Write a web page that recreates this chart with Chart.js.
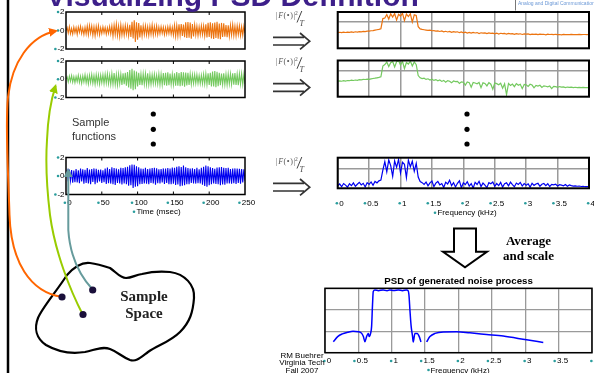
<!DOCTYPE html>
<html><head><meta charset="utf-8">
<script src="https://cdn.jsdelivr.net/npm/chart.js@4.4.1/dist/chart.umd.min.js"></script>
<style>
html,body{margin:0;padding:0;background:#fff;}
#wrap{position:relative;width:594px;height:373px;overflow:hidden;background:#fff;}
#wrap canvas{position:absolute;}
#wrap svg{position:absolute;left:0;top:0;pointer-events:none;}
</style></head><body><div id="wrap"></div>
<script>
// ---------------- data ----------------
const TIME_MAX_MS = 250;
const FREQ_MAX_KHZ = 4;
const timeTickStep = 50;
const freqTickStep = 0.5;

// sample function 1 (orange), amplitude vs time
const orangeTime = [0.0, 0.32, -0.28, 0.41, -0.35, 0.22, -0.4, 0.36, -0.25, 0.3,
 -0.42, 0.38, -0.2, 0.45, -0.33, 0.27, -0.44, 0.35, -0.38, 0.5,
 -0.46, 0.55, -0.3, 0.48, -0.52, 0.4, -0.58, 0.45, -0.36, 0.52,
 -0.47, 0.3, -0.34, 0.38, -0.26, 0.33, -0.4, 0.29, -0.31, 0.42,
 -0.37, 0.5, -0.62, 0.58, -0.45, 0.7, -0.55, 0.48, -0.66, 0.6,
 -0.5, 0.45, -0.52, 0.56, -0.4, 0.5, -0.58, 0.62, -0.7, 0.95,
 -0.85, 1.1, -1.25, 0.9, -1.0, 0.8, -0.75, 0.55, -0.6, 0.5,
 -0.45, 0.52, -0.48, 0.4, -0.55, 0.47, -0.42, 0.6, -0.5, 0.44,
 -0.4, 0.5, -0.46, 0.38, -0.35, 0.42, -0.3, 0.36, -0.44, 0.33,
 -0.38, 0.4, -0.32, 0.45, -0.41, 0.35, -0.5, 0.58, -0.62, 0.55,
 -0.6, 0.66, -0.52, 0.7, -0.58, 0.64, -0.72, 0.88, -0.8, 0.92,
 -0.78, 0.85, -0.9, 0.7, -0.65, 0.6, -0.5, 0.48, -0.55, 0.42,
 -0.46, 0.52, -0.44, 0.5, -0.58, 0.66, -0.75, 0.82, -0.7, 0.9,
 -0.85, 0.78, -0.92, 0.86, -0.8, 0.95, -0.88, 0.75, -0.95, 0.82,
 -0.7, 0.78, -0.66, 0.6, -0.72, 0.55, -0.62, 0.58, -0.5, 0.64,
 -0.56, 0.48, -0.6, 0.52, -0.45, 0.5, -0.55, 0.42, -0.5, 0.46,
 -0.3];

// sample function 2 (green)
const greenTime = [0.0, 0.25, -0.3, 0.35, -0.22, 0.4, -0.33, 0.28, -0.38, 0.3,
 -0.27, 0.42, -0.36, 0.33, -0.45, 0.38, -0.3, 0.48, -0.4, 0.36,
 -0.5, 0.44, -0.38, 0.52, -0.46, 0.4, -0.55, 0.5, -0.42, 0.47,
 -0.52, 0.45, -0.4, 0.5, -0.48, 0.55, -0.44, 0.6, -0.5, 0.46,
 -0.58, 0.62, -0.55, 0.68, -0.6, 0.52, -0.65, 0.58, -0.5, 0.56,
 -0.62, 0.66, -0.55, 0.7, -0.72, 0.8, -0.9, 1.0, -1.05, 1.15,
 -1.2, 0.95, -1.1, 0.85, -0.8, 0.7, -0.62, 0.58, -0.66, 0.6,
 -0.55, 0.62, -0.58, 0.66, -0.6, 0.52, -0.56, 0.5, -0.48, 0.55,
 -0.5, 0.46, -0.52, 0.58, -0.62, 0.55, -0.6, 0.68, -0.64, 0.72,
 -0.7, 0.75, -0.66, 0.62, -0.58, 0.55, -0.6, 0.64, -0.7, 0.78,
 -0.72, 0.68, -0.75, 0.8, -0.7, 0.76, -0.82, 0.74, -0.68, 0.72,
 -0.62, 0.58, -0.55, 0.5, -0.48, 0.52, -0.45, 0.5, -0.46, 0.42,
 -0.48, 0.45, -0.5, 0.55, -0.52, 0.6, -0.58, 0.66, -0.62, 0.72,
 -0.78, 0.85, -0.8, 0.9, -0.86, 0.82, -0.75, 0.7, -0.66, 0.62,
 -0.58, 0.64, -0.6, 0.55, -0.62, 0.58, -0.52, 0.6, -0.56, 0.65,
 -0.6, 0.68, -0.62, 0.58, -0.66, 0.6, -0.55, 0.62, -0.58, 0.56,
 -0.5];

// sample function 3 (blue)
const blueTime = [0.1, 0.55, -0.6, 0.7, -0.5, 0.65, -0.72, 0.58, -0.66, 0.75,
 -0.7, 0.62, -0.78, 0.8, -0.6, 0.72, -0.82, 0.68, -0.75, 0.85,
 -0.8, 0.7, -0.88, 0.76, -0.65, 0.82, -0.9, 0.78, -0.72, 0.66,
 -0.6, 0.7, -0.75, 0.62, -0.68, 0.8, -0.85, 0.92, -0.78, 0.74,
 -0.82, 0.95, -0.9, 0.85, -0.98, 0.8, -0.76, 0.72, -0.8, 0.88,
 -0.92, 0.86, -0.8, 0.94, -0.88, 1.0, -1.05, 1.15, -1.0, 1.25,
 -1.3, 1.2, -1.15, 1.05, -1.1, 0.95, -0.9, 0.82, -0.86, 0.78,
 -0.8, 0.88, -0.84, 0.76, -0.9, 0.8, -0.74, 0.86, -0.82, 0.9,
 -0.95, 0.84, -0.78, 0.72, -0.8, 0.76, -0.7, 0.82, -0.85, 0.8,
 -0.76, 0.86, -0.9, 0.82, -0.88, 0.92, -0.84, 0.9, -0.96, 1.0,
 -0.92, 1.05, -1.1, 0.98, -1.05, 1.12, -1.0, 0.94, -0.9, 0.85,
 -0.88, 0.8, -0.76, 0.84, -0.8, 0.74, -0.82, 0.88, -0.78, 0.72,
 -0.8, 0.9, -0.95, 1.0, -1.08, 1.12, -1.15, 1.05, -1.0, 0.95,
 -0.9, 0.85, -0.8, 0.78, -0.86, 0.92, -0.88, 0.95, -1.0, 0.98,
 -0.92, 0.9, -0.95, 0.86, -0.82, 0.88, -0.8, 0.76, -0.84, 0.8,
 -0.78, 0.82, -0.86, 0.8, -0.74, 0.78, -0.82, 0.76, -0.7, 0.72,
 -0.5];

// |F|^2/T of each sample function (log units), 0..4 kHz
const orangeSpec = [-10.4, -10.1, -10.5, -10.0, -10.3, -9.9, -10.2, -9.8, -10.1, -9.6,
 -9.9, -9.5, -9.7, -9.2, -9.4, -8.9, -9.0, -8.6, -8.4, -8.0,
 -7.6, -7.2, -6.6, 3.5,
 4.0, 7.5, 3.0, 8.2, 5.0, 8.5, 2.0, 7.8, 6.0, 8.6, 1.5, 7.9, 5.5, 8.3, 0.0, 7.2, 6.5,
 -4.5,
 -6.8, -7.3, -7.6, -7.9, -8.2, -8.0, -8.6, -8.4, -8.9,
 -8.7, -9.3, -8.8, -9.6, -9.1, -9.8, -9.3, -10.2, -9.5, -10.0,
 -9.6, -10.5, -9.8, -10.7, -10.0, -10.9, -10.2, -11.0, -10.3, -10.8,
 -10.4, -11.3, -10.6, -11.0, -10.7, -11.5, -10.8, -11.2, -11.0, -11.6,
 -10.9, -11.8, -11.1, -11.4, -11.2, -12.0, -11.3, -11.7, -11.5, -12.2,
 -11.4, -11.9, -11.6, -12.3, -11.7, -12.0, -11.8, -12.4, -11.9, -12.1,
 -12.0, -12.5, -11.9, -12.2, -12.1, -12.6, -12.0, -12.3, -12.2, -12.5,
 -12.1, -12.4, -12.3, -12.6, -12.2, -12.4, -12.3, -12.5, -12.2, -12.4,
 -12.3, -12.4, -12.2, -12.4, -12.3, -12.3, -12.4, -12.3];

const greenSpec = [-10.5, -10.2, -10.6, -10.0, -10.4, -9.9, -10.1, -9.6, -9.9, -9.4,
 -9.7, -9.1, -9.3, -8.8, -8.9, -8.5, -8.7, -8.2, -7.9, -7.6,
 -7.2, -6.8, -6.2, 4.5,
 6.0, 8.5, 4.0, 7.8, 9.0, 3.5, 8.8, 10.0, 5.5, 9.2, 2.0, 8.0, 6.5, 9.4, 4.5, 8.6, 5.8,
 -5.0,
 -7.2, -8.0, -7.6, -8.8, -8.2, -9.4, -8.6, -9.8, -9.0,
 -10.2, -9.4, -10.8, -9.8, -11.5, -10.0, -10.6, -12.2, -10.4, -11.0,
 -10.8, -12.8, -11.2, -11.6, -14.5, -11.4, -12.0, -16.5, -11.8, -12.4,
 -13.2, -11.9, -17.0, -12.2, -12.8, -15.2, -12.0, -13.6, -18.5, -12.4,
 -13.0, -14.2, -12.6, -17.5, -13.2, -24.0, -12.8, -14.8, -13.4, -16.0,
 -13.0, -14.6, -13.6, -18.0, -13.8, -14.2, -15.8, -13.6, -14.4, -17.2,
 -14.8, -15.4, -14.6, -16.8, -15.2, -15.6, -16.2, -15.4, -18.0, -15.8,
 -16.0, -16.6, -15.9, -16.4, -16.2, -17.0, -16.4, -16.8, -16.5, -16.9,
 -16.6, -16.9, -16.7, -17.0, -16.8, -17.0, -16.9, -17.0];

const blueSpec = [-14.8, -13.2, -15.6, -12.8, -14.2, -16.0, -13.0, -14.6, -12.2, -15.2,
 -13.4, -11.8, -14.0, -12.6, -15.8, -12.0, -13.6, -11.4, -14.4, -11.0,
 -12.2, -10.4, -9.8, -1.0,
 6.5, -2.5, 8.0, 3.0, -6.5, 7.2, 1.5, 8.5, -3.5, 6.0, 4.2, -7.5, 7.8, 2.0, 6.8, -2.0, 5.0,
 -7.0, -11.0,
 -12.0, -13.5, -11.5, -14.8, -12.2, -10.6, -15.5, -12.4,
 -11.0, -14.0, -12.8, -16.2, -11.6, -13.2, -9.8, -14.6, -12.0, -15.8,
 -12.6, -10.4, -16.5, -12.2, -13.8, -11.2, -15.0, -12.8, -16.8, -11.8,
 -13.6, -10.8, -15.4, -12.4, -14.2, -16.4, -12.0, -13.0, -11.4, -15.2,
 -12.8, -14.6, -11.8, -16.0, -13.0, -12.2, -14.8, -11.6, -13.8, -15.6,
 -12.4, -13.6, -11.8, -15.0, -12.8, -14.2, -13.0, -16.0, -12.6, -14.4,
 -13.2, -12.6, -15.2, -13.4, -12.8, -14.6, -13.0, -15.4, -13.6, -14.0,
 -13.4, -15.0, -13.8, -14.2, -14.8, -13.6, -15.2, -14.0, -14.6, -15.0,
 -14.8, -15.2, -15.0, -15.4, -15.2, -15.6, -15.4, -15.6];

// averaged PSD of the generated noise process (dB)
const psdFreq = [0.125,0.19,0.26,0.34,0.42,0.5,0.55,0.575,0.598,0.623,0.648,0.663,0.683,0.698,0.712,0.723,0.748,0.80,0.87,0.93,0.97,1.03,1.1,1.16,1.22,1.247,1.26,1.272,1.29,1.312,1.322,1.347,1.382,1.412,1.437,1.48,1.522,1.572,1.647,1.772,1.97,2.17,2.42,2.67,3.02,3.27];
const psdDb = [-49.8,-45,-42.5,-41,-40,-40.4,-42,-45,-49.8,-45,-42,-45,-42,-35.7,-15,-3,-1.6,-2.2,-1.5,-2.3,-1.6,-2.1,-1.5,-2.2,-1.6,-2.4,-8,-20,-35,-45,-50,-42,-42,-45,-50,null,-50,-45,-42,-40.6,-40.5,-41.5,-43,-44.5,-48,-50.4];

// ---------------- drawing ----------------
const FONT = 'Arial, "Liberation Sans", sans-serif';
const SERIF = '"Times New Roman", "Liberation Serif", serif';
const BULLET = '#2a9d9d';
Chart.defaults.font.family = FONT;

const framePlugin = {
  id: 'frame',
  afterDraw(chart, args, o) {
    if (!o || !o.width) return;
    const ctx = chart.ctx, a = chart.chartArea;
    ctx.save();
    ctx.strokeStyle = o.color || '#000';
    ctx.lineWidth = o.width;
    ctx.strokeRect(a.left, a.top, a.right - a.left, a.bottom - a.top);
    if (o.inTicks) {
      const sx = chart.scales.x;
      ctx.lineWidth = 1;
      sx.ticks.forEach(t => {
        if (t.value <= sx.min || t.value >= sx.max) return;
        const px = sx.getPixelForValue(t.value);
        ctx.beginPath();
        ctx.moveTo(px, a.top); ctx.lineTo(px, a.top + 3);
        ctx.moveTo(px, a.bottom); ctx.lineTo(px, a.bottom - 3);
        ctx.stroke();
      });
    }
    ctx.restore();
  }
};
const bulletPlugin = {
  id: 'bullets',
  afterDraw(chart) {
    const ctx = chart.ctx;
    ctx.save();
    ctx.fillStyle = BULLET;
    Object.values(chart.scales).forEach(sc => {
      const o = sc.options;
      if (!o.display || !o.ticks.display) return;
      const f = Chart.helpers.toFont(o.ticks.font);
      ctx.font = f.string;
      sc.ticks.forEach((t, i) => {
        const lbl = String(t.label == null ? '' : t.label);
        if (!lbl) return;
        const w = ctx.measureText(lbl).width;
        let x, y;
        if (sc.isHorizontal()) {
          x = sc.getPixelForTick(i) + (o.ticks.labelOffset || 0) - w / 2 - 2.4;
          y = sc.top + o.ticks.padding + f.lineHeight / 2;
        } else {
          x = sc.right - o.ticks.padding - w - 2.0;
          y = sc.getPixelForTick(i);
        }
        ctx.beginPath(); ctx.arc(x, y, 1.3, 0, Math.PI * 2); ctx.fill();
      });
    });
    ctx.restore();
  }
};
Chart.register(framePlugin, bulletPlugin);

const wrap = document.getElementById('wrap');
// place a chart so that its plotting area lands on the given slide rectangle
function place(box, area, config) {
  const c = document.createElement('canvas');
  c.width = box.w; c.height = box.h;
  c.style.left = box.l + 'px'; c.style.top = box.t + 'px';
  c.style.width = box.w + 'px'; c.style.height = box.h + 'px';
  wrap.appendChild(c);
  const yW = area.l - box.l;
  const xH = box.t + box.h - area.b;
  const sc = config.options.scales;
  sc.x.afterFit = s => { s.height = xH; s.paddingLeft = s.paddingRight = s.paddingTop = s.paddingBottom = 0; };
  sc.y.afterFit = s => { s.width = yW; s.paddingLeft = s.paddingRight = s.paddingTop = s.paddingBottom = 0; };
  config.options.layout = { padding: {
    left: 0, top: area.t - box.t, right: box.l + box.w - area.r, bottom: 0 } };
  config.options.responsive = false;
  config.options.animation = false;
  config.options.devicePixelRatio = 1;
  return new Chart(c, config);
}
const tickFont = { family: FONT, size: 8 };
const plainNum = v => String(v);

function timeChart(box, area, values, color, showX) {
  const step = TIME_MAX_MS / (values.length - 1);
  return place(box, area, {
    type: 'line',
    data: { datasets: [{ data: values.map((v, i) => ({ x: i * step, y: v })),
      borderColor: color, borderWidth: 1.1, pointRadius: 0, tension: 0 }] },
    options: {
      plugins: { legend: { display: false }, tooltip: { enabled: false },
        frame: { width: 1.5, color: '#000', inTicks: true } },
      scales: {
        x: { type: 'linear', min: 0, max: TIME_MAX_MS,
          grid: { display: false, drawTicks: false, tickLength: 0 }, border: { display: false },
          ticks: { display: showX, stepSize: timeTickStep, font: tickFont, color: '#000', callback: plainNum,
            padding: 3.4, labelOffset: 3.5, maxRotation: 0, autoSkip: false } },
        y: { type: 'linear', min: -2, max: 2,
          grid: { display: false, drawTicks: false, tickLength: 0 }, border: { display: false },
          ticks: { stepSize: 2, font: tickFont, color: '#000', padding: 1.5, callback: plainNum } }
      }
    }
  });
}

function freqChart(box, area, values, color, yMin, showX) {
  const step = FREQ_MAX_KHZ / (values.length - 1);
  return place(box, area, {
    type: 'line',
    data: { datasets: [{ data: values.map((v, i) => ({ x: i * step, y: v })),
      borderColor: color, borderWidth: 1.2, pointRadius: 0, tension: 0 }] },
    options: {
      plugins: { legend: { display: false }, tooltip: { enabled: false },
        frame: { width: 2, color: '#000' } },
      scales: {
        x: { type: 'linear', min: 0, max: FREQ_MAX_KHZ,
          grid: { color: '#9a9a9a', lineWidth: 1.5, drawTicks: false, tickLength: 0 }, border: { display: false },
          ticks: { display: showX, stepSize: freqTickStep, font: tickFont, color: '#000', callback: plainNum,
            padding: 10.2, labelOffset: 3.8, maxRotation: 0, autoSkip: false } },
        y: { type: 'linear', min: yMin, max: 10,
          afterBuildTicks: s => { s.ticks = [{ value: 0 }]; },
          grid: { color: '#9a9a9a', lineWidth: 1.5, drawTicks: false, tickLength: 0 }, border: { display: false },
          ticks: { display: false } }
      }
    }
  });
}

timeChart({ l: 40, t: 2, w: 212, h: 52 }, { l: 66, t: 12, r: 245, b: 49 }, orangeTime, '#ec7410', false);
timeChart({ l: 40, t: 54, w: 212, h: 50 }, { l: 66, t: 61, r: 245, b: 97.5 }, greenTime, '#74c95f', false);
timeChart({ l: 40, t: 150, w: 222, h: 60 }, { l: 66, t: 157.5, r: 245, b: 194.5 }, blueTime, '#0000f0', true);

freqChart({ l: 330, t: 5, w: 264, h: 48 }, { l: 337.7, t: 12, r: 589, b: 48.3 }, orangeSpec, '#ec7410', -26, false);
freqChart({ l: 330, t: 55, w: 264, h: 46 }, { l: 337.7, t: 60.5, r: 589, b: 96.7 }, greenSpec, '#74c95f', -26, false);
freqChart({ l: 320, t: 150, w: 274, h: 62 }, { l: 337.7, t: 157.7, r: 589, b: 188.3 }, blueSpec, '#0000f0', -17, true);

place({ l: 315, t: 284, w: 279, h: 89 }, { l: 325, t: 288.3, r: 592, b: 352.7 }, {
  type: 'line',
  data: { datasets: [{ data: psdFreq.map((f, i) => ({ x: f, y: psdDb[i] })),
    borderColor: '#0000ff', borderWidth: 1.5, pointRadius: 0, cubicInterpolationMode: 'monotone', spanGaps: false }] },
  options: {
    plugins: { legend: { display: false }, tooltip: { enabled: false },
      frame: { width: 1.5, color: '#000' } },
    scales: {
      x: { type: 'linear', min: 0, max: FREQ_MAX_KHZ,
        grid: { color: '#9a9a9a', lineWidth: 1.3, drawTicks: false, tickLength: 0 }, border: { display: false },
        ticks: { stepSize: freqTickStep, font: tickFont, color: '#000', callback: plainNum,
          padding: 3.5, labelOffset: 4, maxRotation: 0, autoSkip: false } },
      y: { type: 'linear', min: -60, max: 0,
        grid: { color: '#9a9a9a', lineWidth: 1.3, drawTicks: false, tickLength: 0 }, border: { display: false },
        ticks: { display: false, stepSize: 20 } }
    }
  }
});

// ---------------- slide decorations (svg) ----------------
function formula(d) {
  return `<text x="276" y="${18 + d}" font-family='${SERIF}' font-size="8" fill="#555" textLength="19" lengthAdjust="spacing">|<tspan font-style="italic">F</tspan>(•)|</text>
  <text x="295" y="${14.5 + d}" font-family='${SERIF}' font-size="5.5" fill="#555">2</text>
  <line x1="301.8" y1="${11 + d}" x2="297" y2="${22.5 + d}" stroke="#444" stroke-width="1"/>
  <text x="299.5" y="${25.5 + d}" font-family='${SERIF}' font-size="8" font-style="italic" fill="#444">T</text>
  <path d="M273,${37.3 + d} H304 M273,${45 + d} H304 M300,${33 + d} L309.7,${41.2 + d} L300,${49.4 + d}" stroke="#333" stroke-width="1.7" fill="none"/>`;
}
const svg = `<svg width="594" height="373" viewBox="0 0 594 373" xmlns="http://www.w3.org/2000/svg">
<defs>
 <marker id="mO" markerWidth="9" markerHeight="9" refX="7" refY="4.5" orient="auto" markerUnits="userSpaceOnUse"><path d="M0,0 L9,4.5 L0,9 Z" fill="#ff6600"/></marker>
 <marker id="mG" markerWidth="9" markerHeight="9" refX="7" refY="4.5" orient="auto" markerUnits="userSpaceOnUse"><path d="M0,0 L9,4.5 L0,9 Z" fill="#99cc00"/></marker>
 <marker id="mT" markerWidth="9" markerHeight="9" refX="7" refY="4.5" orient="auto" markerUnits="userSpaceOnUse"><path d="M0,0 L9,4.5 L0,9 Z" fill="#669b9c"/></marker>
</defs>
<line x1="8" y1="0" x2="8" y2="373" stroke="#000" stroke-width="2.5"/>
<text x="46" y="5.5" font-family='${FONT}' font-weight="bold" font-size="30" fill="#3d1f8a">Visualizing PSD Definition</text>
<line x1="515.5" y1="0" x2="515.5" y2="10.5" stroke="#777" stroke-width="1"/>
<text x="518" y="5" font-family='${FONT}' font-size="5" fill="#6b98d6">Analog and Digital Communication</text>
${formula(0)}
${formula(46.3)}
${formula(146)}
<text x="72" y="122" dominant-baseline="central" font-family='${FONT}' font-size="11" fill="#333">Sample</text>
<text x="72" y="135.7" dominant-baseline="central" font-family='${FONT}' font-size="11" fill="#333">functions</text>
<circle cx="153.3" cy="114" r="2.6" fill="#000"/><circle cx="153.3" cy="129.3" r="2.6" fill="#000"/><circle cx="153.3" cy="144" r="2.6" fill="#000"/>
<circle cx="467" cy="114" r="2.6" fill="#000"/><circle cx="467" cy="129.3" r="2.6" fill="#000"/><circle cx="467" cy="144" r="2.6" fill="#000"/>
<circle cx="134" cy="211.7" r="1.3" fill="${BULLET}"/>
<text x="158.5" y="211.7" text-anchor="middle" dominant-baseline="central" font-family='${FONT}' font-size="8" fill="#000">Time (msec)</text>
<circle cx="435" cy="212.7" r="1.3" fill="${BULLET}"/>
<text x="467" y="212.7" text-anchor="middle" dominant-baseline="central" font-family='${FONT}' font-size="8" fill="#000">Frequency (kHz)</text>
<path d="M454,228.5 H476 V251.7 H487 L465,267.3 L443,251.7 H454 Z" fill="#fff" stroke="#000" stroke-width="2"/>
<text x="528.5" y="240.7" text-anchor="middle" dominant-baseline="central" font-family='${SERIF}' font-weight="bold" font-size="13" fill="#000">Average</text>
<text x="528.5" y="255" text-anchor="middle" dominant-baseline="central" font-family='${SERIF}' font-weight="bold" font-size="13" fill="#000">and scale</text>
<text x="458.5" y="280.7" text-anchor="middle" dominant-baseline="central" font-family='${FONT}' font-weight="bold" font-size="9.7" fill="#000">PSD of generated noise process</text>
<text x="302" y="355" text-anchor="middle" dominant-baseline="central" font-family='${FONT}' font-size="8" fill="#000">RM Buehrer</text>
<text x="302" y="362.5" text-anchor="middle" dominant-baseline="central" font-family='${FONT}' font-size="8" fill="#000">Virginia Tech</text>
<text x="302" y="370.5" text-anchor="middle" dominant-baseline="central" font-family='${FONT}' font-size="8" fill="#000">Fall 2007</text>
<circle cx="428.5" cy="370" r="1.3" fill="${BULLET}"/>
<text x="460" y="370" text-anchor="middle" dominant-baseline="central" font-family='${FONT}' font-size="8" fill="#000">Frequency (kHz)</text>
<path d="M67,275 C75,266 82,262 90,263 C98,264 104,266 110,268 C116,272 120,278 126,278 C132,278 135,275 142,274 C150,272 160,271 170,272 C185,274 195,285 194,298 C193,312 190,322 180,332 C170,342 158,345 148,352 C140,358 136,362 130,360 C122,357 118,352 110,349 C102,346 95,350 85,352 C72,354 58,352 46,345 C36,338 34,328 38,318 C42,308 56,292 67,275 Z" fill="none" stroke="#000" stroke-width="2.2"/>
<text x="144" y="296" text-anchor="middle" dominant-baseline="central" font-family='${SERIF}' font-weight="bold" font-size="15" fill="#222">Sample</text>
<text x="144" y="313.3" text-anchor="middle" dominant-baseline="central" font-family='${SERIF}' font-weight="bold" font-size="15" fill="#222">Space</text>
<path d="M62,297 C30,292 11,262 9.5,215 C8,165 5,125 8,97 C12,62 30,36 56,31" fill="none" stroke="#ff6600" stroke-width="2" marker-end="url(#mO)"/>
<path d="M83,315 C70,290 55,252 50,215 C46,182 46,155 47,140 C48,115 51,100 55.5,86" fill="none" stroke="#99cc00" stroke-width="2" marker-end="url(#mG)"/>
<path d="M93,290 C80,276 70,256 68.3,230 L68.3,170" fill="none" stroke="#669b9c" stroke-width="2" marker-end="url(#mT)"/>
<circle cx="62" cy="297" r="3.6" fill="#1a0f3a"/>
<circle cx="83" cy="314.5" r="3.6" fill="#1a0f3a"/>
<circle cx="92.7" cy="290" r="3.6" fill="#1a0f3a"/>
</svg>`;
wrap.insertAdjacentHTML('beforeend', svg);
</script>
</body></html>
